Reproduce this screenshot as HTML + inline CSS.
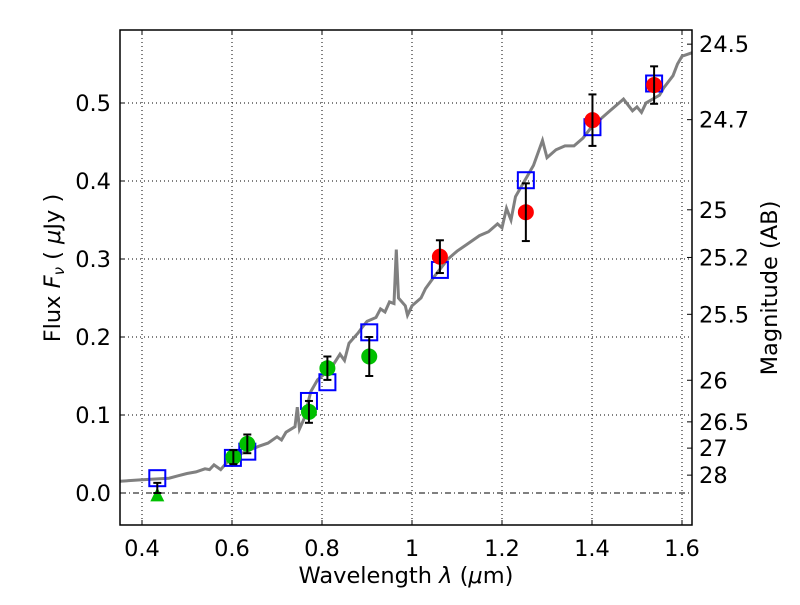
<!DOCTYPE html>
<html><head><meta charset="utf-8"><style>
body{margin:0;background:#fff}
text{font-family:"DejaVu Sans","Liberation Sans",sans-serif;fill:#000}
</style></head><body>
<svg id="chart" width="800" height="600" xmlns="http://www.w3.org/2000/svg"></svg>
<script>
const xTicks=[0.4,0.6,0.8,1,1.2,1.4,1.6];
const xTickLabels=["0.4","0.6","0.8","1","1.2","1.4","1.6"];
const yTicks=[0,0.1,0.2,0.3,0.4,0.5];
const yTickLabels=["0.0","0.1","0.2","0.3","0.4","0.5"];
const magTicks=[24.5,24.7,25,25.2,25.5,26,26.5,27,28];
const magTickLabels=["24.5","24.7","25","25.2","25.5","26","26.5","27","28"];
const specWave=[0.35,0.40,0.43,0.46,0.48,0.50,0.52,0.54,0.55,0.56,0.575,0.59,0.61,0.63,0.66,0.68,0.70,0.71,0.72,0.74,0.745,0.75,0.76,0.775,0.79,0.80,0.82,0.84,0.85,0.86,0.88,0.89,0.90,0.92,0.93,0.94,0.95,0.96,0.965,0.97,0.985,0.99,1.0,1.02,1.03,1.05,1.08,1.10,1.12,1.15,1.17,1.19,1.20,1.21,1.22,1.23,1.25,1.27,1.29,1.30,1.32,1.34,1.36,1.38,1.40,1.42,1.44,1.46,1.47,1.49,1.50,1.51,1.52,1.55,1.56,1.58,1.59,1.60,1.625];
const specFlux=[0.015,0.017,0.018,0.019,0.022,0.025,0.027,0.031,0.030,0.036,0.030,0.040,0.048,0.053,0.060,0.064,0.072,0.068,0.078,0.085,0.110,0.082,0.095,0.130,0.145,0.150,0.160,0.178,0.170,0.192,0.205,0.213,0.220,0.225,0.236,0.232,0.245,0.243,0.312,0.250,0.240,0.228,0.240,0.250,0.262,0.278,0.300,0.310,0.318,0.330,0.335,0.345,0.340,0.365,0.350,0.380,0.400,0.420,0.452,0.430,0.440,0.445,0.445,0.455,0.470,0.480,0.490,0.500,0.505,0.490,0.495,0.488,0.500,0.510,0.520,0.535,0.550,0.560,0.565];
const modelWave=[0.434,0.602,0.634,0.771,0.812,0.905,1.062,1.253,1.401,1.538];
const modelFlux=[0.019,0.045,0.053,0.118,0.142,0.206,0.286,0.401,0.469,0.525];
const greenWave=[0.603,0.634,0.771,0.812,0.905];
const greenFlux=[0.046,0.063,0.104,0.160,0.175];
const greenErr=[0.009,0.012,0.014,0.015,0.025];
const redWave=[1.062,1.253,1.401,1.538];
const redFlux=[0.303,0.360,0.478,0.523];
const redErr=[0.021,0.037,0.033,0.024];
const limWave=[0.434];
const limFlux=[-0.003];
const limErrLo=[0.000];
const limErrHi=[0.013];

const L=120,R=692,T=30,B=525;
const X=v=>142+(v-0.4)*450;
const Y=v=>493-v*780;
const magToFlux=m=>Math.pow(10,(23.9-m)/2.5);
const svg=document.getElementById('chart');
const NS='http://www.w3.org/2000/svg';
function mk(tag,attrs,parent){const e=document.createElementNS(NS,tag);for(const k in attrs)e.setAttribute(k,attrs[k]);(parent||svg).appendChild(e);return e;}

xTicks.forEach((v,i)=>{
  const g=mk('line',{x1:X(v),x2:X(v),y1:T,y2:B,stroke:'#000','stroke-width':1,'stroke-dasharray':'1,3'});
  
  
});
yTicks.forEach((v,i)=>{
  const g=mk('line',{x1:L,x2:R,y1:Y(v),y2:Y(v),stroke:'#000','stroke-width':1,'stroke-dasharray':v===0?'6,3,1,3':'1,3'});
  
  
});

let d=specWave.map((w,i)=>(i?'L':'M')+X(w).toFixed(1)+','+Y(specFlux[i]).toFixed(1)).join(' ');
const clip=mk('clipPath',{id:'pc'});mk('rect',{x:L,y:T,width:R-L,height:B-T},clip);
const sp=mk('path',{d:d,fill:'none',stroke:'#808080','stroke-width':3,'clip-path':'url(#pc)'});



modelWave.forEach((w,i)=>{
  const s=mk('rect',{x:X(w)-8,y:Y(modelFlux[i])-8,width:16,height:16,fill:'none',stroke:'#0000ff','stroke-width':2});
  
  
});
function errbar(x,y1,y2){
  const g=mk('g',{stroke:'#000','stroke-width':2});
  
  
  mk('line',{x1:x,x2:x,y1:y1,y2:y2},g);
  mk('line',{x1:x-4,x2:x+4,y1:y1,y2:y1},g);
  mk('line',{x1:x-4,x2:x+4,y1:y2,y2:y2},g);
}
greenWave.forEach((w,i)=>{
  const c=mk('circle',{cx:X(w),cy:Y(greenFlux[i]),r:8,fill:'#00c000'});
  
  
  errbar(X(w),Y(greenFlux[i]+greenErr[i]),Y(greenFlux[i]-greenErr[i]));
});
redWave.forEach((w,i)=>{
  const c=mk('circle',{cx:X(w),cy:Y(redFlux[i]),r:8,fill:'#ff0000'});
  
  
  errbar(X(w),Y(redFlux[i]+redErr[i]),Y(redFlux[i]-redErr[i]));
});
limWave.forEach((w,i)=>{
  const x=X(w),y=Y(limFlux[i]);
  const t=mk('polygon',{points:`${x},${y-8} ${x-7},${y+6} ${x+7},${y+6}`,fill:'#00c000'});
  
  
  errbar(x,Y(limErrHi[i]),Y(limErrLo[i]));
});

const fr=mk('rect',{x:L,y:T,width:R-L,height:B-T,fill:'none',stroke:'#000','stroke-width':1.5});



xTicks.forEach((v,i)=>{
  mk('line',{x1:X(v),x2:X(v),y1:B,y2:B-5,stroke:'#000'});
  mk('line',{x1:X(v),x2:X(v),y1:T,y2:T+5,stroke:'#000'});
  const t=mk('text',{x:X(v),y:B+31,'text-anchor':'middle','font-size':22.5});
  t.textContent=xTickLabels[i];
  
  
});
yTicks.forEach((v,i)=>{
  mk('line',{x1:L,x2:L+5,y1:Y(v),y2:Y(v),stroke:'#000'});
  const t=mk('text',{x:L-9,y:Y(v)+8,'text-anchor':'end','font-size':22.5});
  t.textContent=yTickLabels[i];
  
  
});
magTicks.forEach((m,i)=>{
  const y=Y(magToFlux(m));
  mk('line',{x1:R,x2:R-5,y1:y,y2:y,stroke:'#000'});
  const t=mk('text',{x:R+7,y:y+8,'text-anchor':'start','font-size':22.5});
  t.textContent=magTickLabels[i];
  
  
});
</script>
<svg style="position:absolute;left:0;top:0" width="800" height="600" xmlns="http://www.w3.org/2000/svg">
<text x="406" y="583" text-anchor="middle" font-size="22.5">Wavelength  <tspan font-style="italic">λ</tspan> (<tspan font-style="italic">μ</tspan>m)</text>
<text transform="translate(60,268) rotate(-90)" text-anchor="middle" font-size="22.5">Flux  <tspan font-style="italic">F</tspan><tspan font-style="italic" font-size="15" dy="4">ν</tspan><tspan dy="-4">  ( </tspan><tspan font-style="italic">μ</tspan>Jy )</text>
<text transform="translate(777,288) rotate(-90)" text-anchor="middle" font-size="22.5">Magnitude (AB)</text>
</svg>
</body></html>
